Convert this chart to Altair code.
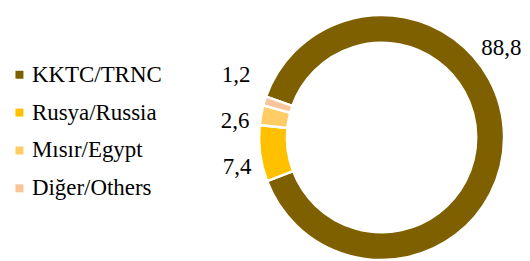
import math
import altair as alt
import pandas as pd

categories = ["KKTC/TRNC", "Rusya/Russia", "Mısır/Egypt", "Diğer/Others"]
values = [88.8, 7.4, 2.6, 1.2]
colors = ["#7f6000", "#ffc000", "#ffcc66", "#f8c49a"]

df = pd.DataFrame({"category": categories, "value": values, "order": list(range(len(categories)))})

FONT = "Liberation Serif"
start_angle = math.radians(289.5)
theta_scale = alt.Scale(domain=[0, 100], range=[start_angle, start_angle + 2 * math.pi])
cx, cy = 373, 129.5

base = alt.Chart(df).transform_window(
    cum="sum(value)", sort=[alt.SortField("order")], frame=[None, 0]
).transform_calculate(
    start="datum.cum - datum.value",
    mid="datum.cum - datum.value / 2",
    label="replace(format(datum.value, '.1f'), '.', ',')",
)

arc = base.mark_arc(outerRadius=123, innerRadius=95, stroke="white", strokeWidth=2.5).encode(
    theta=alt.Theta("start:Q", scale=theta_scale, stack=None),
    theta2="cum:Q",
    color=alt.Color(
        "category:N",
        scale=alt.Scale(domain=categories, range=colors),
        sort=categories,
        legend=alt.Legend(
            orient="none", legendX=-2, legendY=55, title=None,
            symbolType="square", symbolSize=64, symbolStrokeWidth=0,
            labelFontSize=23, labelFont=FONT, labelColor="black",
            rowPadding=14, labelOffset=1,
        ),
    ),
    x=alt.value(cx),
    y=alt.value(cy),
)

def labels(filter_expr, radius, offset):
    return base.transform_filter(filter_expr).mark_text(
        radius=radius, thetaOffset=offset, font=FONT, fontSize=23,
        color="black", align="center", baseline="middle",
    ).encode(
        theta=alt.Theta("mid:Q", scale=theta_scale, stack=None),
        text="label:N",
        x=alt.value(cx),
        y=alt.value(cy),
    )

t_big = labels("datum.value >= 50", 150, math.radians(-36))
t_mid = labels("datum.value < 50 && datum.value >= 2", 148, math.radians(-4))
t_small = labels("datum.value < 2", 159, math.radians(6))

chart = alt.layer(arc, t_big, t_mid, t_small).properties(
    width=514, height=253, padding=0
).configure_view(stroke=None)

chart.save("out.html", embed_options={"renderer": "svg", "actions": False})
